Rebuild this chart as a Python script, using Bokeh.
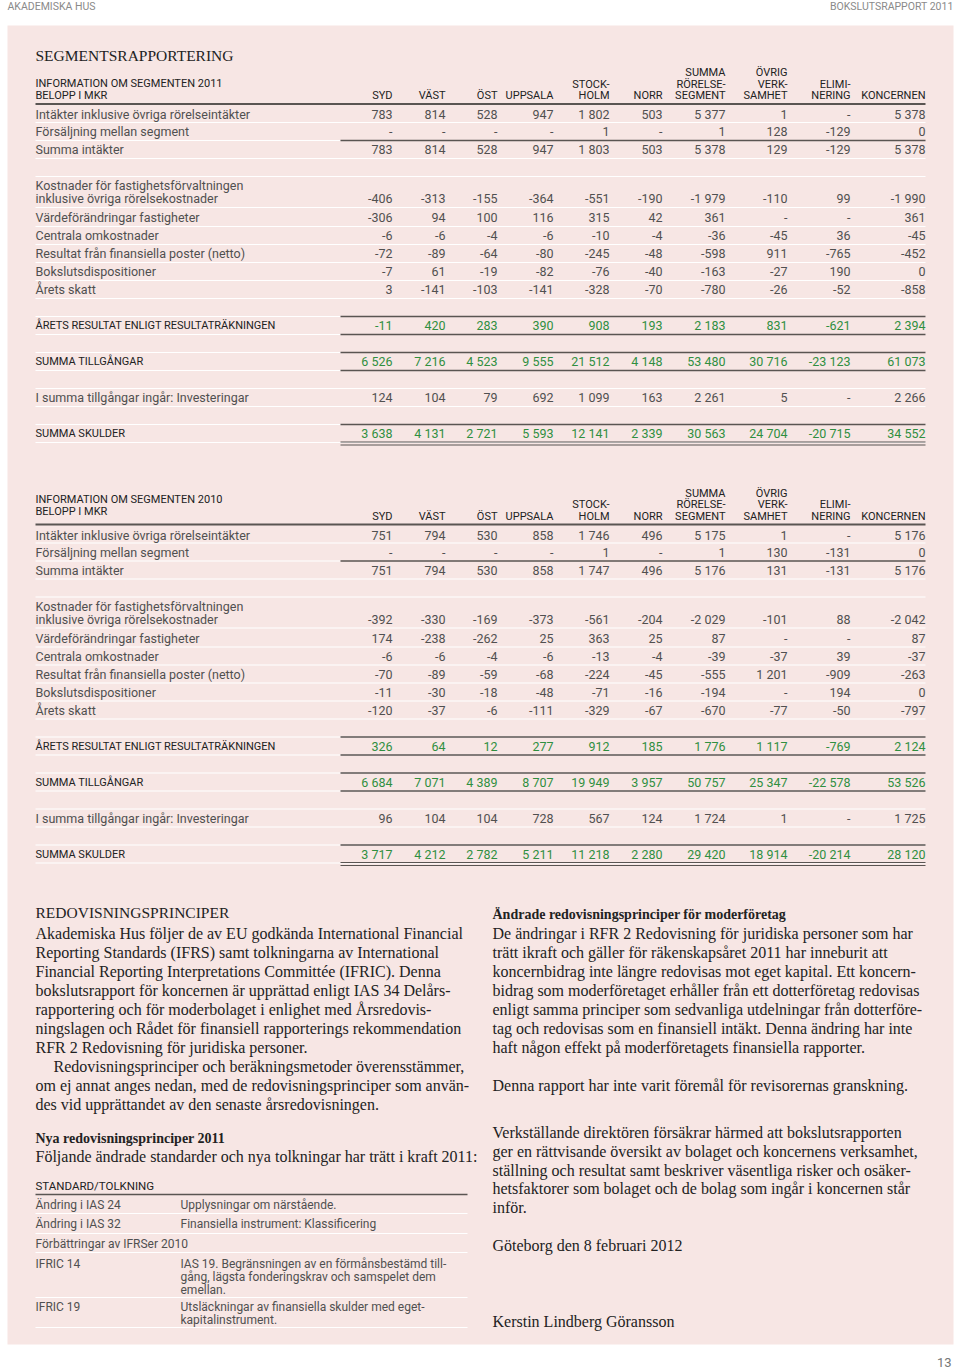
from collections import defaultdict
from bokeh.plotting import figure
from bokeh.models import Range1d
from bokeh.core.properties import value
from bokeh.embed import file_html
from bokeh.resources import INLINE

# ---------------- data ----------------
col_headers = [["SYD"], ["VÄST"], ["ÖST"], ["UPPSALA"], ["STOCK-", "HOLM"], ["NORR"],
               ["SUMMA", "RÖRELSE-", "SEGMENT"], ["ÖVRIG", "VERK-", "SAMHET"],
               ["ELIMI-", "NERING"], ["KONCERNEN"]]

row_labels = ["Intäkter inklusive övriga rörelseintäkter", "Försäljning mellan segment", "Summa intäkter",
              "Kostnader för fastighetsförvaltningen|inklusive övriga rörelsekostnader",
              "Värdeförändringar fastigheter", "Centrala omkostnader",
              "Resultat från finansiella poster (netto)", "Bokslutsdispositioner", "Årets skatt",
              "ÅRETS RESULTAT ENLIGT RESULTATRÄKNINGEN", "SUMMA TILLGÅNGAR",
              "I summa tillgångar ingår: Investeringar", "SUMMA SKULDER"]

intakter_2011 = [783, 814, 528, 947, 1802, 503, 5377, 1, None, 5378]
forsaljning_2011 = [None, None, None, None, 1, None, 1, 128, -129, 0]
summa_intakter_2011 = [783, 814, 528, 947, 1803, 503, 5378, 129, -129, 5378]
kostnader_2011 = [-406, -313, -155, -364, -551, -190, -1979, -110, 99, -1990]
vardeforandringar_2011 = [-306, 94, 100, 116, 315, 42, 361, None, None, 361]
centrala_2011 = [-6, -6, -4, -6, -10, -4, -36, -45, 36, -45]
finansiella_2011 = [-72, -89, -64, -80, -245, -48, -598, 911, -765, -452]
bokslut_2011 = [-7, 61, -19, -82, -76, -40, -163, -27, 190, 0]
skatt_2011 = [3, -141, -103, -141, -328, -70, -780, -26, -52, -858]
resultat_2011 = [-11, 420, 283, 390, 908, 193, 2183, 831, -621, 2394]
tillgangar_2011 = [6526, 7216, 4523, 9555, 21512, 4148, 53480, 30716, -23123, 61073]
investeringar_2011 = [124, 104, 79, 692, 1099, 163, 2261, 5, None, 2266]
skulder_2011 = [3638, 4131, 2721, 5593, 12141, 2339, 30563, 24704, -20715, 34552]

intakter_2010 = [751, 794, 530, 858, 1746, 496, 5175, 1, None, 5176]
forsaljning_2010 = [None, None, None, None, 1, None, 1, 130, -131, 0]
summa_intakter_2010 = [751, 794, 530, 858, 1747, 496, 5176, 131, -131, 5176]
kostnader_2010 = [-392, -330, -169, -373, -561, -204, -2029, -101, 88, -2042]
vardeforandringar_2010 = [174, -238, -262, 25, 363, 25, 87, None, None, 87]
centrala_2010 = [-6, -6, -4, -6, -13, -4, -39, -37, 39, -37]
finansiella_2010 = [-70, -89, -59, -68, -224, -45, -555, 1201, -909, -263]
bokslut_2010 = [-11, -30, -18, -48, -71, -16, -194, None, 194, 0]
skatt_2010 = [-120, -37, -6, -111, -329, -67, -670, -77, -50, -797]
resultat_2010 = [326, 64, 12, 277, 912, 185, 1776, 1117, -769, 2124]
tillgangar_2010 = [6684, 7071, 4389, 8707, 19949, 3957, 50757, 25347, -22578, 53526]
investeringar_2010 = [96, 104, 104, 728, 567, 124, 1724, 1, None, 1725]
skulder_2010 = [3717, 4212, 2782, 5211, 11218, 2280, 29420, 18914, -20214, 28120]

table_2011 = [intakter_2011, forsaljning_2011, summa_intakter_2011, kostnader_2011,
              vardeforandringar_2011, centrala_2011, finansiella_2011, bokslut_2011, skatt_2011,
              resultat_2011, tillgangar_2011, investeringar_2011, skulder_2011]
table_2010 = [intakter_2010, forsaljning_2010, summa_intakter_2010, kostnader_2010,
              vardeforandringar_2010, centrala_2010, finansiella_2010, bokslut_2010, skatt_2010,
              resultat_2010, tillgangar_2010, investeringar_2010, skulder_2010]

left_text = [
    "Akademiska Hus följer de av EU godkända International Financial",
    "Reporting Standards (IFRS) samt tolkningarna av International",
    "Financial Reporting Interpretations Committée (IFRIC). Denna",
    "bokslutsrapport för koncernen är upprättad enligt IAS 34 Delårs-",
    "rapportering och för moderbolaget i enlighet med Årsredovis-",
    "ningslagen och Rådet för finansiell rapporterings rekommendation",
    "RFR 2 Redovisning för juridiska personer.",
    "Redovisningsprinciper och beräkningsmetoder överensstämmer,",
    "om ej annat anges nedan, med de redovisningsprinciper som använ-",
    "des vid upprättandet av den senaste årsredovisningen.",
]
right_text_1 = [
    "De ändringar i RFR 2 Redovisning för juridiska personer som har",
    "trätt ikraft och gäller för räkenskapsåret 2011 har inneburit att",
    "koncernbidrag inte längre redovisas mot eget kapital. Ett koncern-",
    "bidrag som moderföretaget erhåller från ett dotterföretag redovisas",
    "enligt samma principer som sedvanliga utdelningar från dotterföre-",
    "tag och redovisas som en finansiell intäkt. Denna ändring har inte",
    "haft någon effekt på moderföretagets finansiella rapporter.",
]
right_text_2 = [
    "Verkställande direktören försäkrar härmed att bokslutsrapporten",
    "ger en rättvisande översikt av bolaget och koncernens verksamhet,",
    "ställning och resultat samt beskriver väsentliga risker och osäker-",
    "hetsfaktorer som bolaget och de bolag som ingår i koncernen står",
    "inför.",
]
std_rows = [
    ("Ändring i IAS 24", ["Upplysningar om närstående."]),
    ("Ändring i IAS 32", ["Finansiella instrument: Klassificering"]),
    ("Förbättringar av IFRSer 2010", []),
    ("IFRIC 14", ["IAS 19. Begränsningen av en förmånsbestämd till-",
                  "gång, lägsta fonderingskrav och samspelet dem", "emellan."]),
    ("IFRIC 19", ["Utsläckningar av finansiella skulder med eget-", "kapitalinstrument."]),
]

# ---------------- helpers ----------------
SANS = "Roboto"
SERIF = "Liberation Serif"
TXT = "#505050"
DARK = "#222222"
GREEN = "#2f8f3f"
LINE = "#5a5552"
PINK = "#f7e6e4"

texts = defaultdict(lambda: {"x": [], "y": [], "text": []})
segs = defaultdict(lambda: {"x0": [], "y0": [], "x1": [], "y1": []})


def T(x, y, s, size=12.5, color=TXT, font=SANS, align="left", style="normal"):
    d = texts[(font, size, color, align, style)]
    d["x"].append(x); d["y"].append(y); d["text"].append(s)


def L(x0, y, x1, color="white", w=1.0):
    d = segs[(color, w)]
    d["x0"].append(x0); d["y0"].append(y); d["x1"].append(x1); d["y1"].append(y)


def fmt(v):
    if v is None:
        return "-"
    s = f"{abs(v):,}".replace(",", " ")
    return ("-" if v < 0 else "") + s


col_right = [392, 445, 497, 553, 609, 662, 725, 787, 850, 925]
X0, X1, XN = 35, 925, 340
BODY = 12.5
CAPS = 11


def draw_table(oy, year, data, info_dy):
    T(X0, 83 + oy + info_dy, f"INFORMATION OM SEGMENTEN {year}", CAPS, DARK)
    T(X0, 95 + oy + info_dy, "BELOPP I MKR", CAPS, DARK)
    for xr, lines in zip(col_right, col_headers):
        n = len(lines)
        for i, s in enumerate(lines):
            T(xr, 95 + oy - 11.5 * (n - 1 - i), s, CAPS, DARK, align="right")
    L(X0, 103.5 + oy, X1, LINE, 2)
    row_y = [114, 131, 149, 198, 217, 235, 253, 271, 289, 325, 361, 397, 433]
    for i, (lab, vals, ry) in enumerate(zip(row_labels, data, row_y)):
        y = ry + oy
        if i >= 9:
            col = GREEN if i != 11 else TXT
            lcol = DARK if i != 11 else TXT
            lsize = CAPS if i != 11 else BODY
        else:
            col, lcol, lsize = TXT, TXT, BODY
        if "|" in lab:
            a, b = lab.split("|")
            T(X0, y - 13, a, lsize, lcol)
            T(X0, y, b, lsize, lcol)
        else:
            T(X0, y, lab, lsize, lcol)
        for xr, v in zip(col_right, vals):
            T(xr, y, fmt(v), BODY, col, align="right")
    for yy in [122, 158, 176, 207, 226, 244, 262, 280, 298, 316, 334, 352, 370, 388, 406, 424, 442]:
        L(X0, yy + oy, X1, "white", 1.2)
    L(X0, 140 + oy, XN, "white", 1.2)
    L(XN, 140 + oy, X1, LINE, 1.5)
    for yy in [316, 334, 352, 370, 424]:
        L(XN, yy + oy, X1, LINE, 1.5)
    L(XN, 441.5 + oy, X1, LINE, 1.2)
    L(XN, 444.5 + oy, X1, LINE, 1.2)


# ---------------- figure ----------------
W, H = 960, 1370
p = figure(width=W, height=H, x_range=Range1d(0, W), y_range=Range1d(H, 0),
           output_backend="svg", toolbar_location=None, min_border=0)
p.axis.visible = False
p.grid.visible = False
p.outline_line_color = None
p.background_fill_color = "white"
p.border_fill_color = "white"

p.quad(left=[7], right=[953], top=[25], bottom=[1344], fill_color=PINK, line_color=None)

T(7, 6, "AKADEMISKA HUS", 10.5, "#8a8a8a")
T(953, 6, "BOKSLUTSRAPPORT 2011", 10.5, "#8a8a8a", align="right")
T(951, 1362, "13", 13, "#777777", align="right")

T(X0, 55, "SEGMENTSRAPPORTERING", 15.5, DARK, SERIF)

draw_table(0, 2011, table_2011, 0)
draw_table(420.5, 2010, table_2010, -5)

SER = 16
T(X0, 912, "REDOVISNINGSPRINCIPER", 15.5, DARK, SERIF)
for i, s in enumerate(left_text):
    x = 53 if i == 7 else X0
    T(x, 933 + 19 * i, s, SER, DARK, SERIF)
T(X0, 1138, "Nya redovisningsprinciper 2011", 14, DARK, SERIF, style="bold")
T(X0, 1156, "Följande ändrade standarder och nya tolkningar har trätt i kraft 2011:", SER, DARK, SERIF)
T(X0, 1185, "STANDARD/TOLKNING", 11.5, DARK, SANS)
L(X0, 1194, 467, LINE, 1.5)
std_y = [1204, 1223, 1243, 1263, 1306]
for (a, bl), y in zip(std_rows, std_y):
    T(X0, y, a, 12, TXT)
    for j, b in enumerate(bl):
        T(180, y + 13 * j, b, 12, TXT)
for yy in [1213, 1233, 1252, 1297, 1327]:
    L(X0, yy, 467, "white", 1.2)

RX = 492
T(RX, 914, "Ändrade redovisningsprinciper för moderföretag", 14, DARK, SERIF, style="bold")
for i, s in enumerate(right_text_1):
    T(RX, 933 + 19 * i, s, SER, DARK, SERIF)
T(RX, 1085, "Denna rapport har inte varit föremål för revisorernas granskning.", SER, DARK, SERIF)
for i, s in enumerate(right_text_2):
    T(RX, 1132 + 18.8 * i, s, SER, DARK, SERIF)
T(RX, 1245, "Göteborg den 8 februari 2012", SER, DARK, SERIF)
T(RX, 1321, "Kerstin Lindberg Göransson", SER, DARK, SERIF)

for (color, w), d in segs.items():
    p.segment(x0=d["x0"], y0=d["y0"], x1=d["x1"], y1=d["y1"], line_color=color, line_width=w)

for (font, size, color, align, style), d in texts.items():
    p.text(x=d["x"], y=d["y"], text=d["text"], text_font=value(font),
           text_font_size=value(f"{size}px"), text_color=color, text_align=align,
           text_baseline="middle", text_font_style=style)

open("out.html", "w").write(file_html(p, INLINE))
